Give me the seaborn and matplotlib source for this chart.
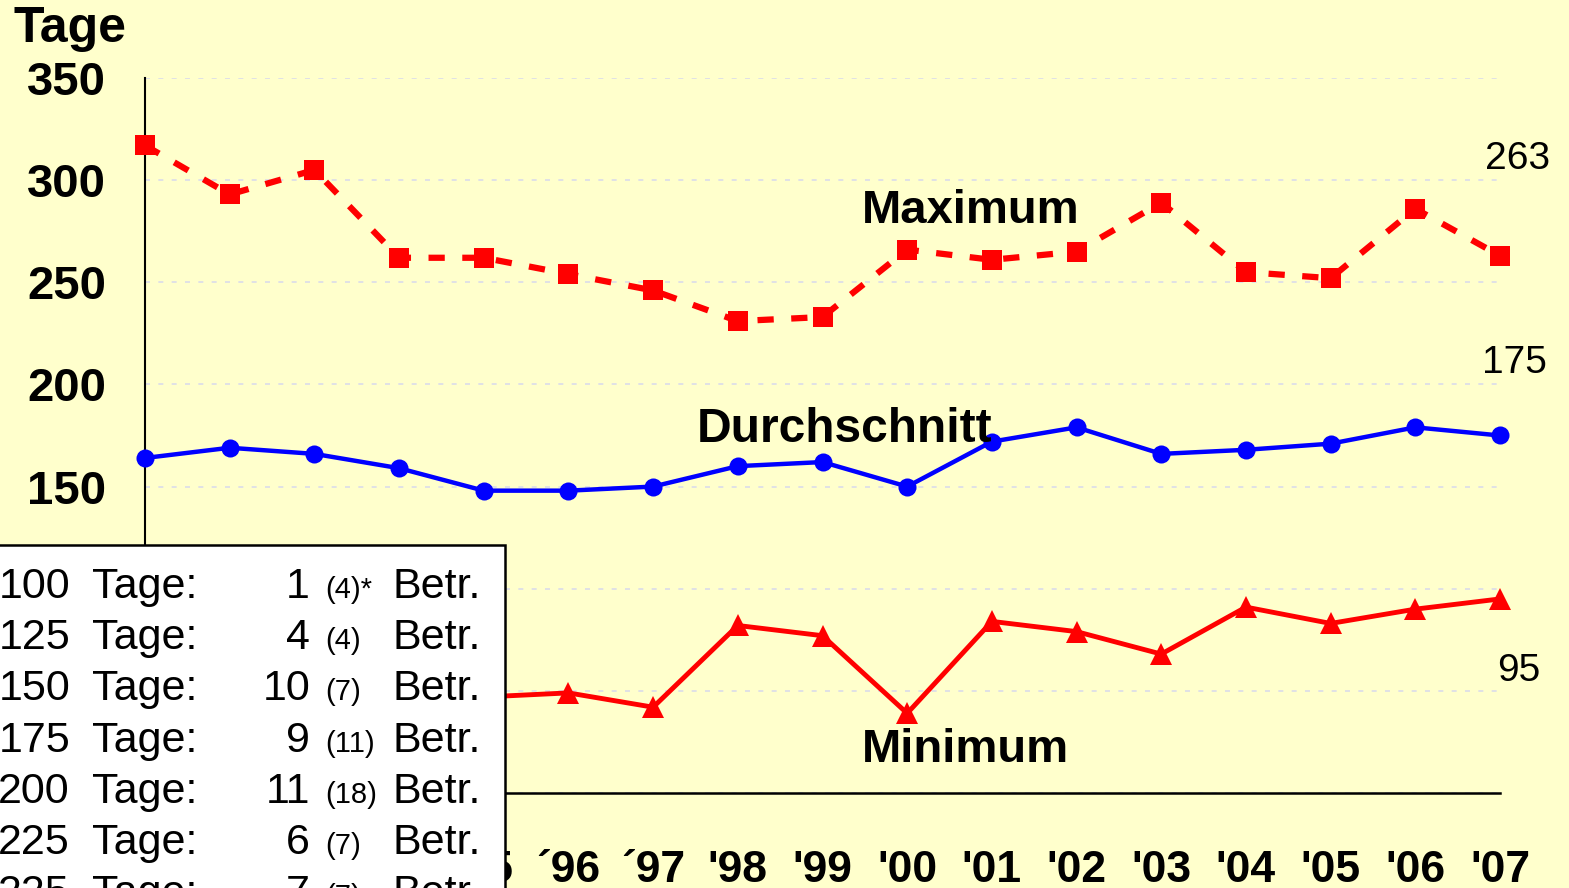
import numpy as np
import pandas as pd
import matplotlib
matplotlib.use('Agg')
import matplotlib.pyplot as plt
from matplotlib.patches import Rectangle
import seaborn as sns

plt.rcParams['font.family'] = ['Liberation Sans', 'DejaVu Sans']

# data (days)
years = ["'91", "'92", "'93", "'94", "'95", "´96", "´97", "'98", "'99",
         "'00", "'01", "'02", "'03", "'04", "'05", "'06", "'07"]
maximum = [317, 293, 305, 262, 262, 254, 246, 231, 233,
           266, 261, 265, 289, 255, 252, 286, 263]
durchschnitt = [164, 169, 166, 159, 148, 148, 150, 160, 162,
                150, 172, 179, 166, 168, 171, 179, 175]
minimum = [55, 60, 52, 46, 47, 49, 42, 82, 77,
           39, 84, 79, 68, 91, 83, 90, 95]

# box with number of farms per class
klassen = ['100', '125', '150', '175', '200', '225', '225']
betriebe = [1, 4, 10, 9, 11, 6, 7]
vorjahr = [4, 4, 7, 11, 18, 7, 7]

W, H = 1569, 888
bg = '#FFFFCC'

def fx(x):
    return x / W

def fy(y):
    return 1 - y / H

df = pd.DataFrame({'i': np.arange(len(years)), 'max': maximum,
                   'avg': durchschnitt, 'min': minimum})

fig = plt.figure(figsize=(W / 100, H / 100), dpi=100, facecolor=bg)
ax = fig.add_axes([fx(145), fy(793), fx(1500) - fx(145), fy(78) - fy(793)])
ax.set_facecolor(bg)

sns.lineplot(data=df, x='i', y='max', ax=ax, color='red', lw=4.5,
             linestyle=(0, (2.6, 2.8)), marker='s', markersize=15,
             mec='red', mew=0, clip_on=False, zorder=4)
sns.lineplot(data=df, x='i', y='avg', ax=ax, color='blue', lw=3.2,
             marker='o', markersize=13, mec='blue', mew=0,
             clip_on=False, zorder=4)
sns.lineplot(data=df, x='i', y='min', ax=ax, color='red', lw=3.5,
             marker='^', markersize=16, mec='red', mew=0,
             clip_on=False, zorder=4)

ax.set_xlim(0, len(years) - 1)
ax.set_ylim(0, 350)
ax.set_xticks(df['i'])
ax.set_xticklabels(years, fontsize=32, fontweight='bold')
ax.set_yticks(range(0, 351, 50))
ax.set_yticklabels([str(v) for v in range(0, 351, 50)], fontsize=34,
                   fontweight='bold')
ax.tick_params(axis='x', length=0, pad=41)
ax.tick_params(axis='y', length=0, pad=28)
ax.set_xlabel('')
ax.set_ylabel('')
ax.grid(axis='y', color='#DADCEA', linestyle=(0, (3, 5)), lw=1.2)
ax.grid(axis='x', visible=False)
for s in ['top', 'right']:
    ax.spines[s].set_visible(False)
ax.spines['left'].set_color('black')
ax.spines['left'].set_linewidth(1.5)
ax.spines['bottom'].set_color('black')
ax.spines['bottom'].set_linewidth(1.8)

fig.text(fx(14), fy(42), 'Tage', fontsize=36, fontweight='bold')

# series names
fig.text(fx(862), fy(211), 'Maximum', fontsize=34, fontweight='bold', va='center')
fig.text(fx(697), fy(429), 'Durchschnitt', fontsize=34.5, fontweight='bold', va='center')
fig.text(fx(862), fy(750), 'Minimum', fontsize=34, fontweight='bold', va='center')

# last values
fig.text(fx(1485), fy(159), str(maximum[-1]), fontsize=28, va='center')
fig.text(fx(1482), fy(363), str(durchschnitt[-1]), fontsize=28, va='center')
fig.text(fx(1497), fy(671), str(minimum[-1]), fontsize=28, va='center')

# white info box in the lower left
box = Rectangle((fx(-5), fy(905)), fx(510), fy(545) - fy(905),
                transform=fig.transFigure, facecolor='white',
                edgecolor='black', lw=1.8, zorder=10)
fig.add_artist(box)
for r, (k, n, v) in enumerate(zip(klassen, betriebe, vorjahr)):
    yb = fy(598 + r * 51.2)
    fig.text(fx(70), yb, k, fontsize=31, ha='right', va='baseline', zorder=11)
    fig.text(fx(92), yb, 'Tage:', fontsize=31, va='baseline', zorder=11)
    fig.text(fx(310), yb, str(n), fontsize=31, ha='right', va='baseline', zorder=11)
    star = '*' if r == 0 else ''
    fig.text(fx(325), yb, '(' + str(v) + ')' + star, fontsize=21,
             va='baseline', zorder=11)
    fig.text(fx(393), yb, 'Betr.', fontsize=31, va='baseline', zorder=11)

fig.savefig('out.png', dpi=100, facecolor=bg)
